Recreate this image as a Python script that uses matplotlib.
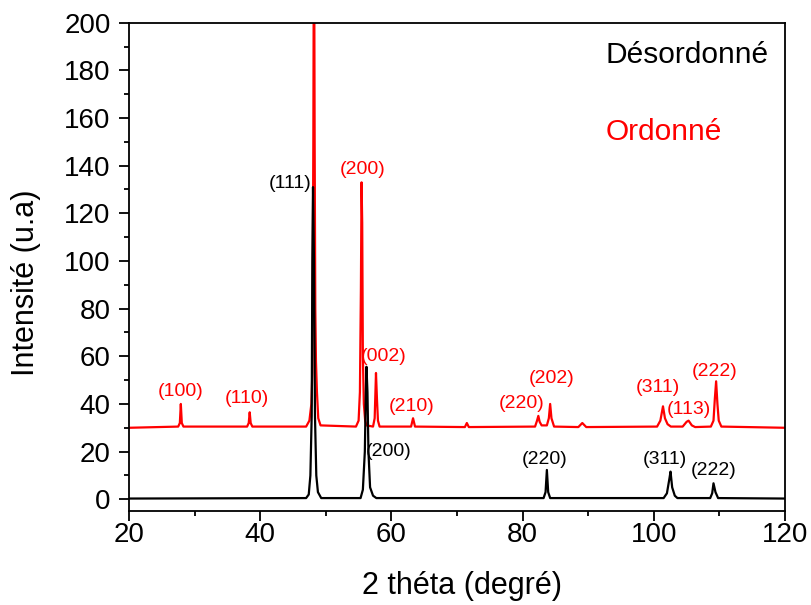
import matplotlib
matplotlib.use('Agg')
import matplotlib.pyplot as plt
from matplotlib.ticker import MultipleLocator

plt.rcParams['font.family'] = ['Liberation Sans', 'DejaVu Sans']

# ---- Data (vertices) ----
# Désordonné (black)
des_x = [20, 47.0, 47.4, 47.65, 47.85, 47.95, 48.05, 48.2, 48.35, 48.55, 48.8, 49.3,
         55.3, 55.65, 55.95, 56.1, 56.2, 56.35, 56.5, 56.75, 57.2, 57.7,
         83.2, 83.5, 83.7, 83.9, 84.2,
         101.5, 102.0, 102.4, 102.55, 102.8, 103.2, 103.6,
         108.6, 108.9, 109.1, 109.4, 109.8, 120]
des_y = [0.3, 0.5, 2, 10, 35, 100, 131, 100, 35, 10, 3, 0.5,
         0.5, 4, 20, 45, 55.6, 45, 20, 5, 1.5, 0.5,
         0.5, 3, 12.3, 3, 0.5,
         0.5, 2.5, 9, 11.6, 5, 1.5, 0.5,
         0.5, 2.5, 6.7, 3, 0.5, 0.3]

# Ordonné (red)
ord_x = [20, 27.5, 27.75, 27.9, 28.05, 28.3,
         38.0, 38.25, 38.4, 38.55, 38.8,
         47.0, 47.5, 47.8, 47.95, 48.1, 48.2, 48.3, 48.4, 48.5, 48.65, 48.85, 49.2,
         54.6, 55.0, 55.2, 55.35, 55.45, 55.55, 55.65, 55.8, 56.0, 56.2,
         57.2, 57.45, 57.65, 57.8, 57.95, 58.2,
         63.0, 63.3, 63.6,
         71.2, 71.5, 71.8,
         81.9, 82.2, 82.4, 82.6, 82.9,
         83.7, 84.0, 84.2, 84.4, 84.8,
         88.5, 89.1, 89.7,
         100.5, 101.0, 101.4, 101.7, 102.1, 102.6,
         104.4, 105.0, 105.3, 105.8, 106.3,
         108.7, 109.1, 109.3, 109.5, 109.7, 109.9, 110.3, 120]
ord_y = [30, 30.5, 32, 40, 32, 30.5,
         30.5, 32, 36.5, 32, 30.5,
         30.5, 33, 40, 53, 150, 260, 150, 80, 58, 45, 34, 31,
         30.5, 33, 45, 88, 133, 116, 60, 40, 33, 31,
         30.5, 34, 53, 42, 33, 30.5,
         30.5, 34, 30.5,
         30.3, 32, 30.3,
         30.5, 33, 35, 32.5, 31,
         31, 34, 40, 34, 30.5,
         30.3, 32, 30.3,
         30.5, 33, 39, 34, 31.5, 30.5,
         30.5, 32.5, 33, 31, 30.3,
         30.5, 33, 42, 49.5, 40, 33, 30.5, 30]

des_labels = ['(111)', '(200)', '(220)', '(311)', '(222)']
ord_labels = ['(100)', '(110)', '(200)', '(002)', '(210)', '(220)', '(202)',
              '(311)', '(113)', '(222)']
series_names = ['Désordonné', 'Ordonné']
x_ticks = [20, 40, 60, 80, 100, 120]
y_ticks = [0, 20, 40, 60, 80, 100, 120, 140, 160, 180, 200]

# ---- Layout ----
des_label_pos = [(44.5, 132.4), (59.6, 20.0), (83.4, 16.5), (101.7, 16.5), (109.1, 11.9)]
ord_label_pos = [(27.8, 45.4), (37.9, 42.4), (55.6, 138.4), (58.8, 59.8), (63.1, 39.0),
                 (79.9, 40.3), (84.5, 50.8), (100.6, 46.8), (105.4, 37.6), (109.25, 53.7)]

W, H = 812, 605
fig = plt.figure(figsize=(W / 100, H / 100), dpi=100)
ax = fig.add_axes([129 / W, 1 - 510.7 / H, (785 - 129) / W, (510.7 - 22.7) / H])

ax.plot(ord_x, ord_y, color='#ff0000', lw=1.6, zorder=2)
ax.plot(des_x, des_y, color='black', lw=1.6, zorder=2.5)

for t, (x, y) in zip(des_labels, des_label_pos):
    ax.text(x, y, t, color='black', fontsize=14, ha='center', va='center', zorder=3)
for t, (x, y) in zip(ord_labels, ord_label_pos):
    ax.text(x, y, t, color='#ff0000', fontsize=14, ha='center', va='center', zorder=3)

ax.text(92.6, 183, series_names[0], color='black', fontsize=21.5, ha='left', va='baseline')
ax.text(92.6, 150.8, series_names[1], color='#ff0000', fontsize=21.5, ha='left', va='baseline')

ax.set_xlim(20, 120)
ax.set_ylim(-4.8, 200)
ax.set_xticks(x_ticks)
ax.set_yticks(y_ticks)
ax.xaxis.set_minor_locator(MultipleLocator(10))
ax.yaxis.set_minor_locator(MultipleLocator(10))
ax.tick_params(which='both', direction='out', top=False, right=False, width=1.3)
ax.tick_params(which='major', length=7.2)
ax.tick_params(which='minor', length=3.6)
ax.tick_params(axis='x', which='major', labelsize=20, pad=1)
ax.tick_params(axis='y', which='major', labelsize=20, pad=6)
for s in ax.spines.values():
    s.set_linewidth(1.3)

ax.set_xlabel('2 théta (degré)', fontsize=22, va='center')
ax.xaxis.set_label_coords((461.7 - 129) / 656, (510.7 - 586) / 488)
ax.set_ylabel('Intensité (u.a)', fontsize=22, va='center')
ax.yaxis.set_label_coords((26 - 129) / 656, (510.7 - 282.5) / 488)

fig.savefig('out.png', dpi=100)
